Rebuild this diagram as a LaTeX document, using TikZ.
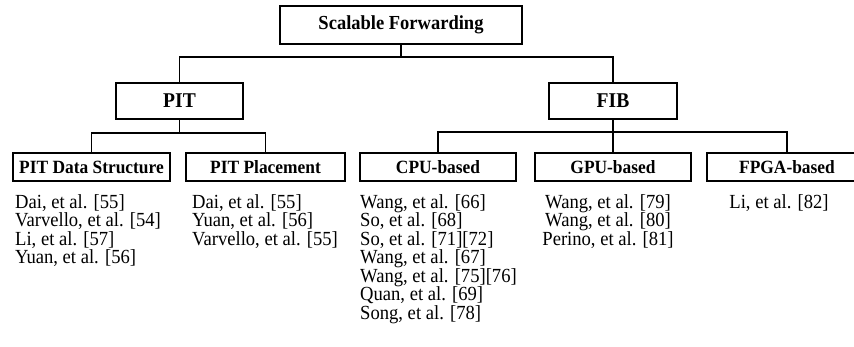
\documentclass[tikz,border=0pt]{standalone}
\usepackage{fontspec}
\setmainfont{Liberation Serif}[FakeStretch=0.93]
\begin{document}
\begin{tikzpicture}[x=1pt,y=-1pt,
  box/.style={draw=black,line width=1.6pt,inner sep=0pt,minimum height=28pt,font=\fontsize{18.7}{19}\selectfont\bfseries},
  bigbox/.style={box,minimum height=36pt,font=\fontsize{21}{22}\selectfont\bfseries},
  topbox/.style={box,minimum height=38pt,font=\fontsize{19.9}{21}\selectfont\bfseries},
  conn/.style={draw=black,line width=1.6pt},
  reflist/.style={inner sep=0pt,anchor=north west,align=left,font=\fontsize{20}{18.5}\selectfont},
  reflistc/.style={inner sep=0pt,anchor=north,align=center,font=\fontsize{20}{18.5}\selectfont}]
\useasboundingbox (0,0) rectangle (854,347);
\fill[white] (0,0) rectangle (854,347);
% boxes
\node[topbox,minimum width=242pt] (top) at (401,25) {Scalable Forwarding};
\node[bigbox,minimum width=127pt] (pit) at (179.5,101) {PIT};
\node[bigbox,minimum width=128pt] (fib) at (613,101) {FIB};
\node[box,minimum width=157pt] (pds) at (91.5,167) {PIT Data Structure};
\node[box,minimum width=159pt] (ppl) at (265.5,167) {PIT Placement};
\node[box,minimum width=156pt] (cpu) at (438,167) {CPU-based};
\node[box,minimum width=156pt] (gpu) at (613,167) {GPU-based};
\node[box,minimum width=160pt] (fpga) at (787,167) {FPGA-based};
% junctions
\coordinate (t1) at (401,57);
\coordinate (p1) at (179.5,133);
\coordinate (f1) at (613,132);
% connectors
\draw[conn] (top.south) -- (t1);
\draw[conn] (pit.north) |- (t1) -| (fib.north);
\draw[conn] (pit.south) -- (p1);
\draw[conn] (pds.north) |- (p1) -| (ppl.north);
\draw[conn] (fib.south) -- (f1);
\draw[conn] (cpu.north) |- (f1) -| (fpga.north);
\draw[conn] (gpu.north) -- (f1);
% reference lists
\node[reflist] (lpds) at (15,194) {Dai, et al. [55]\\Varvello, et al. [54]\\Li, et al. [57]\\Yuan, et al. [56]};
\node[reflist] (lppl) at (192,194) {Dai, et al. [55]\\Yuan, et al. [56]\\Varvello, et al. [55]};
\node[reflist] (lcpu) at (360,194) {Wang, et al. [66]\\So, et al. [68]\\So, et al. [71][72]\\Wang, et al. [67]\\Wang, et al. [75][76]\\Quan, et al. [69]\\Song, et al. [78]};
\node[reflistc] (lgpu) at (608,194) {Wang, et al. [79]\\Wang, et al. [80]\\Perino, et al. [81]};
\node[reflistc] (lfpga) at (779,194) {Li, et al. [82]};
\end{tikzpicture}
\end{document}
